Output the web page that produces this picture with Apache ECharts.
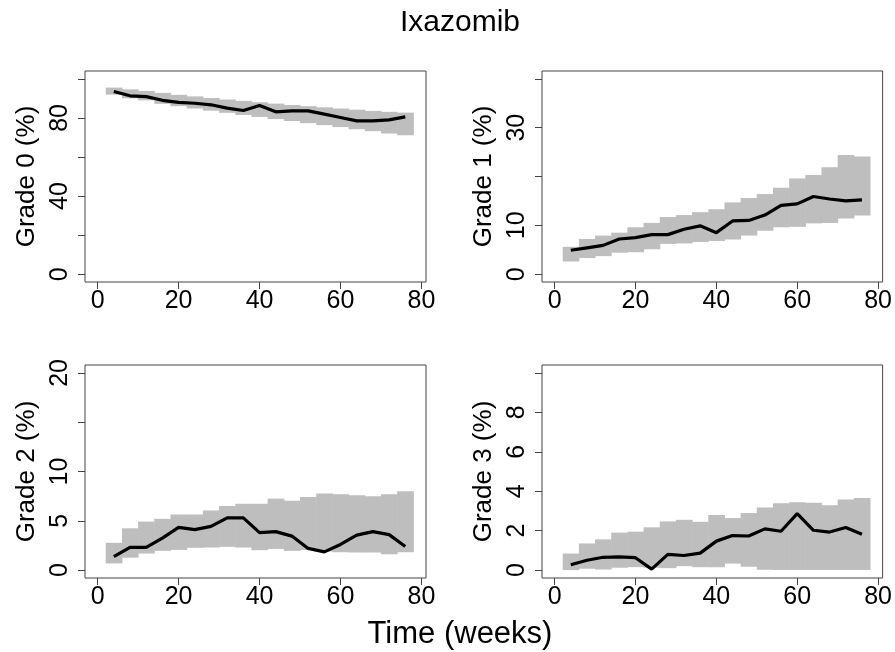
<!DOCTYPE html>
<html>
<head>
<meta charset="utf-8">
<script src="https://cdn.jsdelivr.net/npm/echarts@6/dist/echarts.min.js"></script>
<style>
  html, body { margin: 0; padding: 0; background: #fff; }
  #chart { width: 895px; height: 652px; }
</style>
</head>
<body>
<div id="chart"></div>
<script>
// weeks (midpoints of the 4-week bins)
const weeks = [4, 8, 12, 16, 20, 24, 28, 32, 36, 40, 44, 48, 52, 56, 60, 64, 68, 72, 76];
const xTicks = [0, 20, 40, 60, 80];

// Grade 0
const grade0 = [93.5, 91.3, 90.9, 89.0, 87.9, 87.5, 86.7, 85.0, 83.8, 86.3, 83.1, 83.6, 83.6, 81.9, 80.2, 78.5, 78.5, 79.0, 80.5];
const grade0Hi = [95.5, 94.6, 93.8, 92.8, 91.8, 91.0, 90.2, 89.4, 88.7, 88.0, 87.3, 86.6, 86.0, 85.4, 84.8, 84.2, 83.6, 83.1, 82.7];
const grade0Lo = [91.9, 90.0, 89.0, 87.2, 86.0, 84.8, 83.7, 82.6, 81.5, 80.5, 79.4, 78.4, 77.3, 76.3, 75.3, 74.2, 73.2, 72.0, 71.1];

// Grade 1
const grade1 = [4.9, 5.4, 5.9, 7.2, 7.5, 8.1, 8.1, 9.2, 9.9, 8.5, 10.9, 11.0, 12.1, 14.1, 14.4, 15.9, 15.4, 15.0, 15.2];
const grade1Hi = [5.6, 7.2, 7.9, 8.5, 9.6, 10.5, 11.7, 12.1, 12.7, 13.3, 14.7, 15.6, 16.4, 17.7, 19.6, 20.3, 21.9, 24.4, 24.1];
const grade1Lo = [2.6, 3.3, 3.7, 4.4, 4.5, 5.1, 6.2, 6.3, 6.6, 6.8, 7.1, 7.9, 8.9, 9.6, 9.7, 10.4, 10.5, 11.4, 12.0];

// Grade 2
const grade2 = [1.37, 2.3, 2.3, 3.25, 4.34, 4.1, 4.44, 5.3, 5.3, 3.8, 3.9, 3.45, 2.2, 1.85, 2.6, 3.55, 3.9, 3.6, 2.4];
const grade2Hi = [2.77, 4.24, 4.92, 5.2, 5.64, 5.64, 6.05, 6.5, 6.73, 6.73, 7.25, 7.04, 7.42, 7.76, 7.69, 7.59, 7.49, 7.69, 8.0];
const grade2Lo = [0.68, 1.26, 1.68, 1.95, 2.05, 2.26, 2.29, 2.36, 2.29, 2.02, 2.15, 1.95, 2.05, 1.88, 1.81, 1.78, 1.78, 1.61, 1.81];

// Grade 3
const grade3 = [0.27, 0.5, 0.65, 0.67, 0.63, 0.05, 0.8, 0.74, 0.86, 1.47, 1.75, 1.73, 2.09, 1.97, 2.86, 2.02, 1.93, 2.16, 1.82];
const grade3Hi = [0.84, 1.35, 1.56, 1.9, 1.95, 2.17, 2.47, 2.55, 2.45, 2.79, 2.64, 2.89, 3.17, 3.39, 3.44, 3.41, 3.29, 3.58, 3.66];
const grade3Lo = [0, 0.07, 0.03, 0.12, 0.15, 0.12, 0.1, 0.2, 0.15, 0.15, 0.33, 0.17, 0.02, 0, 0, 0, 0, 0, 0];

const panels = [
  { name: "Grade 0 (%)", line: grade0, hi: grade0Hi, lo: grade0Lo, ylim: [0, 100], ticks: [0, 20, 40, 60, 80, 100], labels: [0, 40, 80] },
  { name: "Grade 1 (%)", line: grade1, hi: grade1Hi, lo: grade1Lo, ylim: [0, 40], ticks: [0, 10, 20, 30, 40], labels: [0, 10, 30] },
  { name: "Grade 2 (%)", line: grade2, hi: grade2Hi, lo: grade2Lo, ylim: [0, 20], ticks: [0, 5, 10, 15, 20], labels: [0, 5, 10, 20] },
  { name: "Grade 3 (%)", line: grade3, hi: grade3Hi, lo: grade3Lo, ylim: [0, 10], ticks: [0, 2, 4, 6, 8, 10], labels: [0, 2, 4, 6, 8] },
];

const FONT = "'Liberation Sans', Arial, sans-serif";
const AXIS_COLOR = "#444";
const boxes = [
  { left: 85, top: 71, width: 341, height: 211 },
  { left: 542, top: 71, width: 341, height: 211 },
  { left: 85, top: 365, width: 341, height: 213 },
  { left: 542, top: 365, width: 341, height: 213 },
];

// R-style 4% padding around the data range
const pad = (lo, hi) => [lo - 0.04 * (hi - lo), hi + 0.04 * (hi - lo)];
const xRange = pad(0, 78);

// bin edges around each week midpoint
const halfBin = (weeks[1] - weeks[0]) / 2;

const grid = boxes.map((b) => ({
  ...b,
  show: true,
  borderColor: AXIS_COLOR,
  borderWidth: 1,
  backgroundColor: "transparent",
}));

const xAxis = panels.map((p, i) => ({
  type: "value",
  gridIndex: i,
  position: "bottom",
  min: xRange[0],
  max: xRange[1],
  axisLine: { show: false, onZero: false },
  splitLine: { show: false },
  axisTick: { show: true, inside: false, length: 7, customValues: xTicks, lineStyle: { color: AXIS_COLOR } },
  axisLabel: { customValues: xTicks, fontSize: 25, fontFamily: FONT, color: "#000", margin: 7 },
}));

const yAxis = panels.map((p, i) => {
  const r = pad(p.ylim[0], p.ylim[1]);
  return {
    type: "value",
    gridIndex: i,
    position: "left",
    min: r[0],
    max: r[1],
    name: p.name,
    nameLocation: "middle",
    nameRotate: 90,
    nameGap: 45,
    nameTextStyle: { fontSize: 26, fontFamily: FONT, color: "#000" },
    axisLine: { show: false, onZero: false },
    splitLine: { show: false },
    axisTick: { show: true, inside: false, length: 7, customValues: p.ticks, lineStyle: { color: AXIS_COLOR } },
    axisLabel: { customValues: p.labels, rotate: 90, fontSize: 25, fontFamily: FONT, color: "#000", margin: 12 },
  };
});

const series = [];
panels.forEach((p, i) => {
  series.push({
    type: "custom",
    xAxisIndex: i,
    yAxisIndex: i,
    silent: true,
    z: 1,
    data: weeks.map((w, k) => [w, p.lo[k], p.hi[k]]),
    renderItem: (params, api) => {
      const w = api.value(0);
      const a = api.coord([w - halfBin, api.value(2)]);
      const b = api.coord([w + halfBin, api.value(1)]);
      return {
        type: "rect",
        shape: { x: a[0], y: a[1], width: b[0] - a[0] + 0.5, height: b[1] - a[1] },
        style: { fill: "#bebebe" },
      };
    },
  });
  series.push({
    type: "line",
    xAxisIndex: i,
    yAxisIndex: i,
    z: 3,
    symbol: "none",
    silent: true,
    lineStyle: { color: "#000", width: 3.2 },
    data: weeks.map((w, k) => [w, p.line[k]]),
  });
});

const chart = echarts.init(document.getElementById("chart"));
chart.setOption({
  animation: false,
  backgroundColor: "#fff",
  grid,
  xAxis,
  yAxis,
  series,
  graphic: [
    {
      type: "text",
      x: 460,
      y: 23,
      style: { text: "Ixazomib", font: `30px ${FONT}`, fill: "#000", textAlign: "center", textVerticalAlign: "middle" },
    },
    {
      type: "text",
      x: 460,
      y: 634,
      style: { text: "Time (weeks)", font: `31px ${FONT}`, fill: "#000", textAlign: "center", textVerticalAlign: "middle" },
    },
  ],
});
</script>
</body>
</html>
